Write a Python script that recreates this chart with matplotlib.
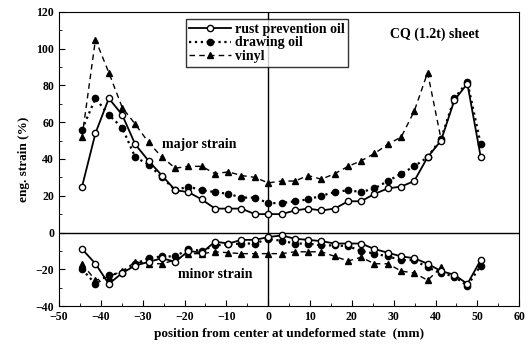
import numpy as np
import matplotlib
matplotlib.use('Agg')
import matplotlib.pyplot as plt
from matplotlib.ticker import MultipleLocator

plt.rcParams['font.family'] = ['Liberation Serif', 'DejaVu Serif']

# posiciones de medida (mm)
pos = [-44.5, -41.3, -38.1, -34.9, -31.8, -28.6, -25.4, -22.2, -19.1, -15.9,
       -12.7, -9.5, -6.4, -3.2, 0.0, 3.2, 6.4, 9.5, 12.7, 15.9,
       19.1, 22.2, 25.4, 28.6, 31.8, 34.9, 38.1, 41.3, 44.5, 47.6, 50.8]

# deformacion mayor (%)
rust_major = [25, 54, 73, 64, 48, 39, 31, 23, 22, 18, 13, 13, 13, 10, 10, 10,
              12, 13, 12, 13, 17, 17, 21, 24, 25, 28, 41, 50, 72, 81, 41]
draw_major = [56, 73, 64, 57, 41, 37, 30, 23, 25, 23, 22, 21, 19, 19, 16, 16,
              17, 18, 20, 22, 23, 22, 24, 28, 32, 36, 41, 51, 73, 82, 48]
vinyl_major = [52, 105, 87, 68, 59, 49, 41, 35, 36, 36, 32, 33, 31, 30, 27, 28,
               28, 31, 29, 32, 36, 39, 43, 48, 52, 66, 87, 51, np.nan, np.nan, np.nan]

# deformacion menor (%)
rust_minor = [-9, -17, -28, -22, -18, -16, -14, -16, -10, -11, -5, -6, -4, -4, -2.5, -1.6,
              -3.4, -4, -4.7, -6, -6, -6, -9, -11, -13, -14, -17, -21, -23, -28, -15]
draw_minor = [-20, -28, -23, -22, -17, -14, -13, -13, -9, -10, -7, -6.5, -6, -6, -3.5, -4.5,
              -6, -6, -7, -7, -7.5, -10, -11.5, -13, -15, -15, -19, -22, -24, -29, -18]
vinyl_minor = [-17, -26, -24, -21, -16, -17, -17, -15, -11.5, -11.5, -10.5, -11, -11.5, -11.5,
               -11.5, -11.5, -10.5, -10.5, -10.5, -13, -15.5, -13.5, -17, -17, -21, -22, -26, -19,
               np.nan, np.nan, np.nan]

fig = plt.figure(figsize=(5.32, 3.63), dpi=100)
ax = fig.add_axes([0.111, 0.157, 0.865, 0.81])

ms = 4.5
# lineas de referencia
ax.axhline(0, color='k', lw=1.0, zorder=1)
ax.axvline(0, color='k', lw=1.0, zorder=1)

ax.plot(pos, rust_major, 'k-', marker='o', mfc='white', ms=ms, lw=1.3, label='rust prevention oil', zorder=4)
ax.plot(pos, draw_major, 'k:', marker='o', mfc='black', ms=ms, lw=1.6, label='drawing oil', zorder=3)
ax.plot(pos, vinyl_major, 'k--', marker='^', mfc='black', ms=ms, lw=1.0, dashes=(4, 3), label='vinyl', zorder=2)

ax.plot(pos, rust_minor, 'k-', marker='o', mfc='white', ms=ms, lw=1.3, zorder=4)
ax.plot(pos, draw_minor, 'k:', marker='o', mfc='black', ms=ms, lw=1.6, zorder=3)
ax.plot(pos, vinyl_minor, 'k--', marker='^', mfc='black', ms=ms, lw=1.0, dashes=(4, 3), zorder=2)

ax.set_xlim(-50, 60)
ax.set_ylim(-40, 120)
ax.xaxis.set_major_locator(MultipleLocator(10))
ax.xaxis.set_minor_locator(MultipleLocator(5))
ax.yaxis.set_major_locator(MultipleLocator(20))
ax.yaxis.set_minor_locator(MultipleLocator(10))
ax.tick_params(which='both', direction='in', labelsize=8.5)
ax.tick_params(which='major', length=4)
ax.tick_params(which='minor', length=2)
for lbl in ax.get_xticklabels() + ax.get_yticklabels():
    lbl.set_fontweight('bold')

# textos
ax.text(29, 106, 'CQ (1.2t) sheet', fontsize=10, fontweight='bold')
ax.text(-25.5, 46, 'major strain', fontsize=10, fontweight='bold')
ax.text(-21.5, -25, 'minor strain', fontsize=10, fontweight='bold')

ax.set_xlabel('position from center at undeformed state  (mm)', fontsize=9.5, fontweight='bold')
ax.set_ylabel('eng. strain (%)', fontsize=9.5, fontweight='bold')

leg = ax.legend(loc='upper left', bbox_to_anchor=(0.275, 0.975), fontsize=10, frameon=True,
                fancybox=False, edgecolor='black', handlelength=3.0, borderpad=0.25,
                labelspacing=0.05, handletextpad=0.3, borderaxespad=0)
leg.get_frame().set_linewidth(1.0)
for t in leg.get_texts():
    t.set_fontweight('bold')

fig.savefig('out.png', dpi=100)
